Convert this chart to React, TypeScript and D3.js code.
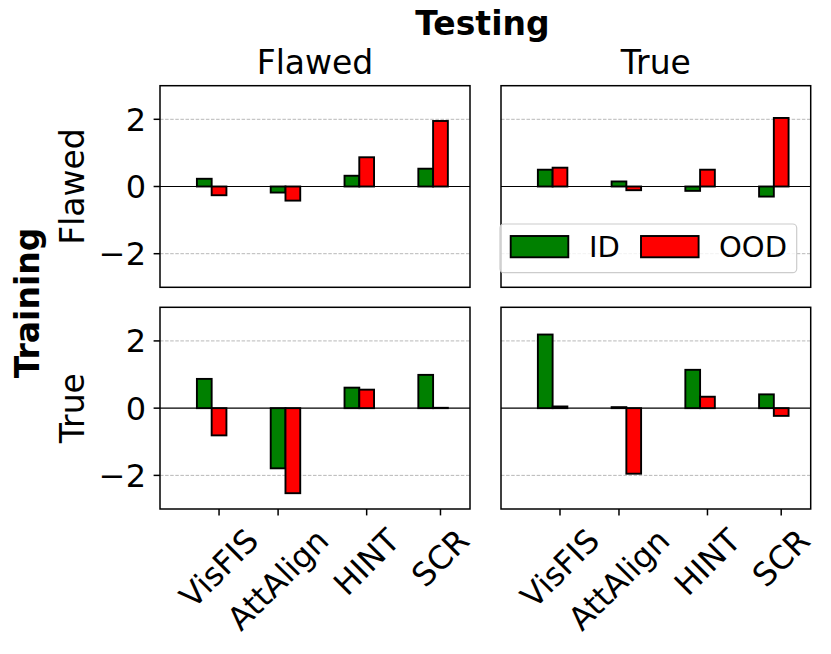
import React, { useRef, useEffect } from 'react';
import * as d3 from 'd3';

const methods = ['VisFIS', 'AttAlign', 'HINT', 'SCR'];
const tickPositions = [0.1, 0.9, 2.1, 3.1];
const yTicks = [-2, 0, 2];
const rowLabels = ['Flawed', 'True'];
const colLabels = ['Flawed', 'True'];
const seriesNames = ['ID', 'OOD'];
const seriesColors = ['#008000', '#ff0000'];

// training flawed
const flawedFlawedID = [0.23, -0.18, 0.32, 0.53];
const flawedFlawedOOD = [-0.26, -0.42, 0.87, 1.95];
const flawedTrueID = [0.5, 0.15, -0.13, -0.3];
const flawedTrueOOD = [0.56, -0.11, 0.5, 2.04];
// training true
const trueFlawedID = [0.87, -1.79, 0.61, 0.99];
const trueFlawedOOD = [-0.81, -2.53, 0.55, 0.01];
const trueTrueID = [2.19, 0.03, 1.14, 0.41];
const trueTrueOOD = [0.05, -1.95, 0.34, -0.23];

const panels = [
  { row: 0, col: 0, id: flawedFlawedID, ood: flawedFlawedOOD },
  { row: 0, col: 1, id: flawedTrueID, ood: flawedTrueOOD },
  { row: 1, col: 0, id: trueFlawedID, ood: trueFlawedOOD },
  { row: 1, col: 1, id: trueTrueID, ood: trueTrueOOD },
];

const FONT = '"DejaVu Sans", sans-serif';
const LABEL_FS = 33;
const TICK_FS = 32;
const LEGEND_FS = 29;

export default function App() {
  const svgRef = useRef<SVGSVGElement>(null);

  useEffect(() => {
    const width = 831;
    const height = 654;
    const svg = d3.select(svgRef.current);
    svg.selectAll('*').remove();
    svg.attr('width', width).attr('height', height);

    const colX = [[160, 470], [501, 810.7]];
    const rowY = [[85.7, 287.3], [307.3, 509]];
    const barW = 0.2;

    panels.forEach(p => {
      const [x0, x1] = colX[p.col];
      const [y0, y1] = rowY[p.row];
      const x = d3.scaleLinear().domain([-0.7, 3.5]).range([x0, x1]);
      const y = d3.scaleLinear().domain([-3, 3]).range([y1, y0]);
      const g = svg.append('g');

      // grid
      g.selectAll('.grid')
        .data(yTicks.filter(t => t !== 0))
        .enter()
        .append('line')
        .attr('x1', x0).attr('x2', x1)
        .attr('y1', d => y(d)).attr('y2', d => y(d))
        .attr('stroke', '#b0b0b0')
        .attr('stroke-width', 0.9)
        .attr('stroke-dasharray', '3.5,1.6');

      // zero line
      g.append('line')
        .attr('x1', x0).attr('x2', x1)
        .attr('y1', y(0)).attr('y2', y(0))
        .attr('stroke', '#000')
        .attr('stroke-width', 1.1);

      [p.id, p.ood].forEach((vals, si) => {
        g.selectAll(`.bar${si}`)
          .data(vals)
          .enter()
          .append('rect')
          .attr('x', (d, i) => x(i - barW + si * barW))
          .attr('width', x(barW) - x(0))
          .attr('y', d => y(Math.max(0, d)))
          .attr('height', d => Math.abs(y(d) - y(0)))
          .attr('fill', seriesColors[si])
          .attr('stroke', '#000')
          .attr('stroke-width', 1.9);
      });

      // frame
      g.append('rect')
        .attr('x', x0).attr('y', y0)
        .attr('width', x1 - x0).attr('height', y1 - y0)
        .attr('fill', 'none')
        .attr('stroke', '#000')
        .attr('stroke-width', 1.5);

      if (p.col === 0) {
        yTicks.forEach(t => {
          g.append('line')
            .attr('x1', x0 - 6.4).attr('x2', x0)
            .attr('y1', y(t)).attr('y2', y(t))
            .attr('stroke', '#000').attr('stroke-width', 1.5);
          g.append('text')
            .attr('x', x0 - 14)
            .attr('y', y(t))
            .attr('dy', '0.36em')
            .attr('text-anchor', 'end')
            .attr('font-family', FONT)
            .attr('font-size', TICK_FS)
            .text(t < 0 ? `\u2212${Math.abs(t)}` : `${t}`);
        });
      }

      if (p.row === 1) {
        tickPositions.forEach((t, i) => {
          g.append('line')
            .attr('x1', x(t)).attr('x2', x(t))
            .attr('y1', y1).attr('y2', y1 + 6.4)
            .attr('stroke', '#000').attr('stroke-width', 1.5);
          const txt = g.append('text')
            .attr('text-anchor', 'middle')
            .attr('dominant-baseline', 'central')
            .attr('font-family', FONT)
            .attr('font-size', TICK_FS)
            .text(methods[i]);
          const w = (txt.node() as SVGTextElement).getComputedTextLength();
          const h = 1.164 * TICK_FS;
          const cx = x(t);
          const cy = y1 + 12.8 + (w + h) / (2 * Math.SQRT2);
          txt.attr('x', cx).attr('y', cy)
            .attr('transform', `rotate(-45,${cx},${cy})`);
        });
      }

      if (p.row === 0) {
        svg.append('text')
          .attr('x', (x0 + x1) / 2)
          .attr('y', 74)
          .attr('text-anchor', 'middle')
          .attr('font-family', FONT)
          .attr('font-size', LABEL_FS)
          .text(colLabels[p.col]);
      }
      if (p.col === 0) {
        const cy = (y0 + y1) / 2;
        svg.append('text')
          .attr('transform', `translate(84,${cy}) rotate(-90)`)
          .attr('text-anchor', 'middle')
          .attr('font-family', FONT)
          .attr('font-size', LABEL_FS)
          .text(rowLabels[p.row]);
      }

      // legend in top-right panel
      if (p.row === 0 && p.col === 1) {
        const leg = svg.append('g');
        leg.append('rect')
          .attr('x', 500).attr('y', 224)
          .attr('width', 296.7).attr('height', 48.7)
          .attr('rx', 4)
          .attr('fill', '#fff').attr('fill-opacity', 0.8)
          .attr('stroke', '#cccccc').attr('stroke-width', 1.2);
        const items = [
          { px: 510.7, tx: 589 },
          { px: 641, tx: 719 },
        ];
        items.forEach((it, si) => {
          leg.append('rect')
            .attr('x', it.px).attr('y', 236)
            .attr('width', 57.6).attr('height', 21.3)
            .attr('fill', seriesColors[si])
            .attr('stroke', '#000').attr('stroke-width', 1.9);
          leg.append('text')
            .attr('x', it.tx).attr('y', 246.7)
            .attr('dy', '0.36em')
            .attr('font-family', FONT)
            .attr('font-size', LEGEND_FS)
            .text(seriesNames[si]);
        });
      }
    });

    svg.append('text')
      .attr('x', 482.4).attr('y', 35)
      .attr('text-anchor', 'middle')
      .attr('font-family', FONT)
      .attr('font-weight', 'bold')
      .attr('font-size', LABEL_FS)
      .text('Testing');

    svg.append('text')
      .attr('transform', 'translate(39,303) rotate(-90)')
      .attr('text-anchor', 'middle')
      .attr('font-family', FONT)
      .attr('font-weight', 'bold')
      .attr('font-size', LABEL_FS)
      .text('Training');
  }, []);

  return (
    <div style={{ position: 'absolute', left: 0, top: 0, background: '#fff' }}>
      <svg ref={svgRef} style={{ display: 'block' }} />
    </div>
  );
}
